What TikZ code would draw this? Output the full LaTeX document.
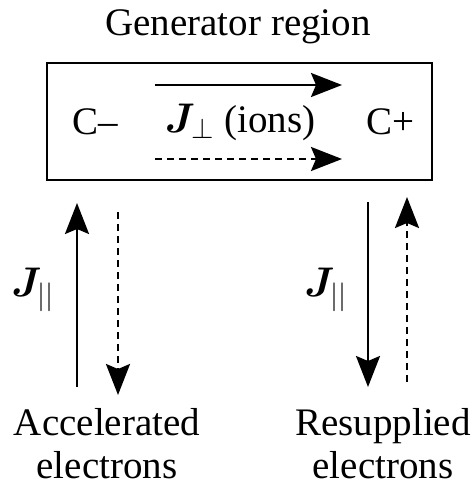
\documentclass[tikz,border=0pt]{standalone}
\usepackage{amsmath,bm}
\usepackage{fontspec}
\setmainfont{Liberation Serif}
\usetikzlibrary{arrows.meta,positioning}

\newcommand\lblfont{\fontsize{19.5}{21.5}\selectfont}
\newcommand\curfont{\fontsize{22}{24}\selectfont}

\begin{document}
\begin{tikzpicture}[x=0.5pt, y=-0.5pt, font=\lblfont,
        >={Stealth[length=15.5pt, width=12pt, inset=2.5pt]},
        current/.style={->, line width=1.2pt},
        electron/.style={->, line width=1.2pt, dash pattern=on 3.5pt off 2.5pt}]
        \useasboundingbox (0,0) rectangle (475,486);

        % Define nodes
        \node (title) at (238,27) {Generator region};
        \node (region) [draw, line width=1.2pt, minimum width=192.5pt, minimum height=58.5pt] at (239.5,121.5) {};
        \node (cminus) at (95,122) {C–};
        \node (cplus) at (390,122) {C+};
        \node (jperp) at (240,122) {$\boldsymbol{J}_\perp$ (ions)};
        \node (jleft) [font=\curfont] at (33,290) {$\boldsymbol{J}_{||}$};
        \node (jright) [font=\curfont] at (326,290) {$\boldsymbol{J}_{||}$};
        \node (accel) [align=center] at (107,444) {Accelerated\\electrons};
        \node (resup) [align=center] at (383,444) {Resupplied\\electrons};

        % Arrow ends
        \coordinate (ionsA) at (155,85);
        \coordinate (ionsB) at (342,85);
        \coordinate (elecA) at (155,159);
        \coordinate (elecB) at (342,159);
        \coordinate (leftA) at (77,387);
        \coordinate (leftB) at (77,203);
        \coordinate (leftC) at (118,212);
        \coordinate (leftD) at (118,395);
        \coordinate (rightA) at (368,202);
        \coordinate (rightB) at (368,387);
        \coordinate (rightC) at (407,382);
        \coordinate (rightD) at (407,197);

        % Draw arrows
        \draw[current] (ionsA) -- (ionsB);
        \draw[electron] (elecA) -- (elecB);
        \draw[current] (leftA) -- (leftB);
        \draw[electron] (leftC) -- (leftD);
        \draw[current] (rightA) -- (rightB);
        \draw[electron] (rightC) -- (rightD);
    \end{tikzpicture}
\end{document}
